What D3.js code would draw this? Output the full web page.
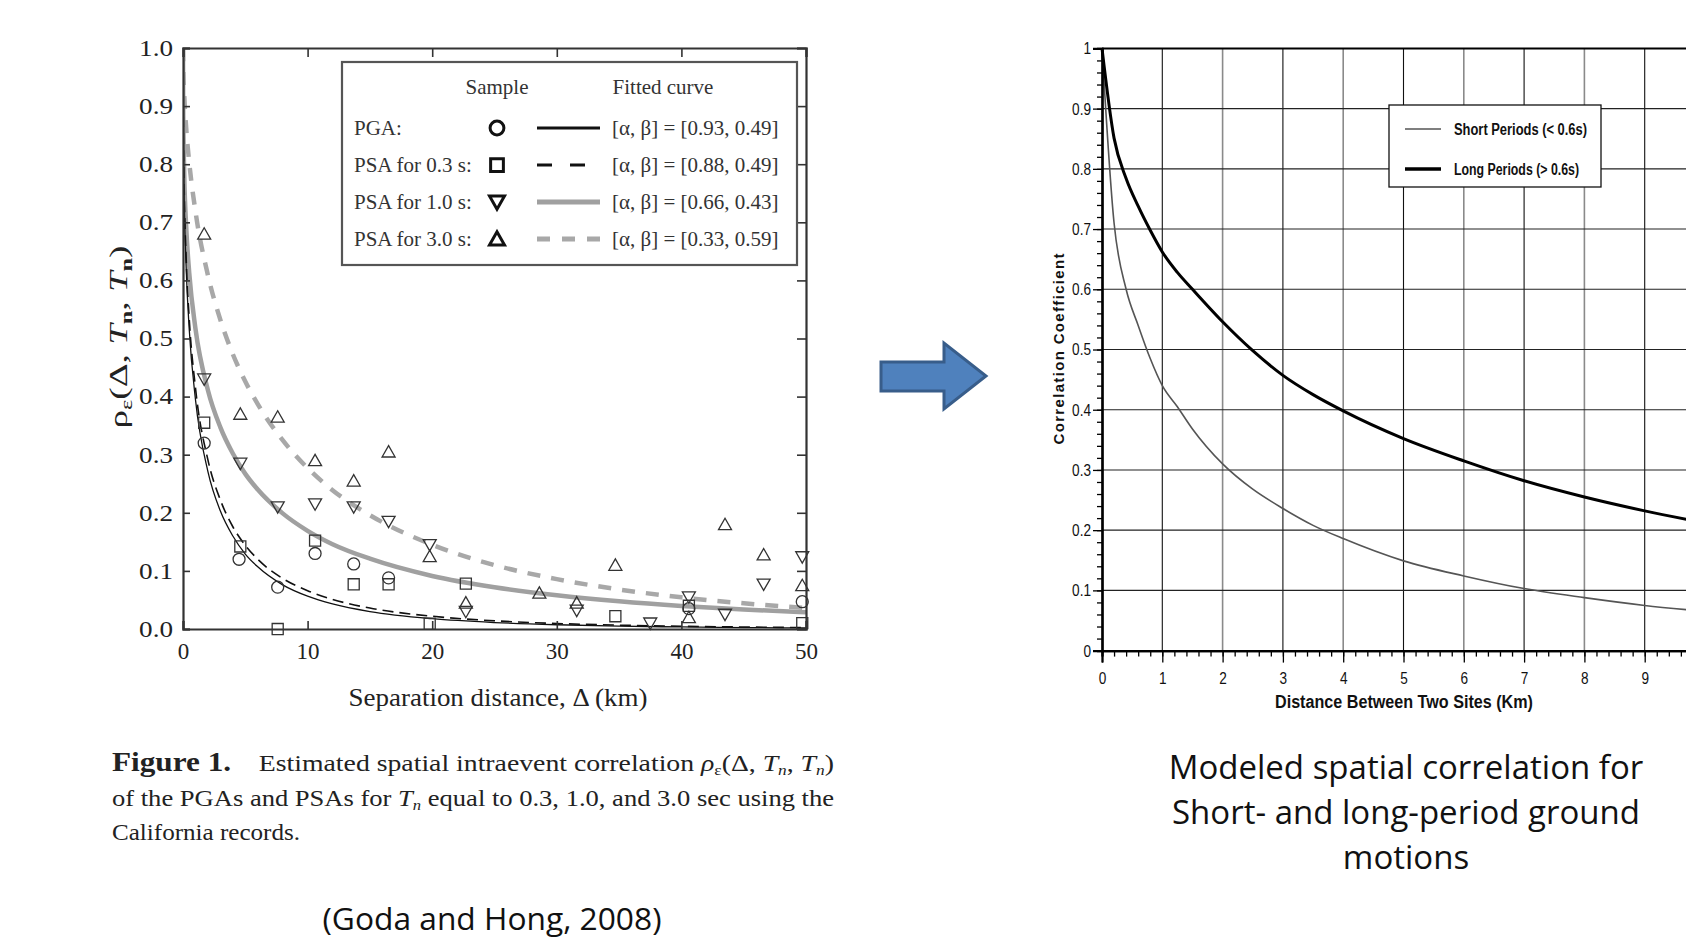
<!DOCTYPE html>
<html>
<head>
<meta charset="utf-8">
<script src="https://cdn.jsdelivr.net/npm/d3@7"></script>
<style>
  body { margin: 0; background: #fff; }
  svg { display: block; }
  .serif { font-family: "Liberation Serif", "Times New Roman", serif; }
</style>
</head>
<body>
<script>
var width = 1686,
    height = 939;

// ---- left figure (Goda and Hong, 2008) ----
var seriesNames = ["PGA:", "PSA for 0.3 s:", "PSA for 1.0 s:", "PSA for 3.0 s:"];
var fitLabels = ["[\u03b1, \u03b2] = [0.93, 0.49]", "[\u03b1, \u03b2] = [0.88, 0.49]", "[\u03b1, \u03b2] = [0.66, 0.43]", "[\u03b1, \u03b2] = [0.33, 0.59]"];
var leftXTicks = [0, 10, 20, 30, 40, 50];
var leftYTicks = [0, 0.1, 0.2, 0.3, 0.4, 0.5, 0.6, 0.7, 0.8, 0.9, 1.0];

var fitDist  = [0, 0.02, 0.1, 0.25, 0.5, 1, 2, 3, 4, 5, 6, 8, 10, 12, 15, 20, 25, 30, 35, 40, 45, 50];
var fitPGA   = [1, 0.872, 0.740, 0.624, 0.516, 0.395, 0.271, 0.203, 0.160, 0.129, 0.107, 0.076, 0.0565, 0.0432, 0.030, 0.0177, 0.0111, 0.0073, 0.0049, 0.0035, 0.0025, 0.0018];
var fitPSA03 = [1, 0.879, 0.752, 0.640, 0.534, 0.415, 0.291, 0.222, 0.176, 0.144, 0.120, 0.087, 0.066, 0.051, 0.036, 0.022, 0.0141, 0.0095, 0.0066, 0.0047, 0.0034, 0.0025];
var fitPSA10 = [1, 0.884, 0.782, 0.695, 0.613, 0.517, 0.411, 0.347, 0.302, 0.267, 0.240, 0.199, 0.169, 0.146, 0.121, 0.0913, 0.0718, 0.0579, 0.0476, 0.0397, 0.0336, 0.0287];
var fitPSA30 = [1, 0.968, 0.919, 0.864, 0.803, 0.719, 0.609, 0.532, 0.473, 0.426, 0.387, 0.325, 0.277, 0.239, 0.196, 0.145, 0.110, 0.0859, 0.068, 0.0545, 0.0442, 0.0362];

var samplePGA   = [[1.7,0.32],[4.5,0.12],[7.6,0.072],[10.6,0.13],[13.7,0.112],[16.5,0.088],[40.6,0.035],[49.7,0.047]];
var samplePSA03 = [[1.7,0.355],[4.6,0.142],[7.6,0.0],[10.6,0.152],[13.7,0.077],[16.5,0.077],[19.8,0.009],[22.7,0.078],[34.7,0.022],[40.6,0.04],[49.7,0.01]];
var samplePSA10 = [[1.7,0.43],[4.6,0.285],[7.6,0.21],[10.6,0.215],[13.7,0.21],[16.5,0.185],[19.8,0.145],[22.7,0.03],[31.6,0.032],[37.5,0.01],[40.6,0.055],[43.5,0.025],[46.6,0.077],[49.7,0.124]];
var samplePSA30 = [[1.7,0.68],[4.6,0.37],[7.6,0.365],[10.6,0.29],[13.7,0.255],[16.5,0.305],[19.8,0.125],[22.7,0.045],[28.6,0.062],[31.6,0.045],[34.7,0.11],[40.6,0.02],[43.5,0.18],[46.6,0.128],[49.7,0.075]];

// ---- right figure ----
var rightLegend = ["Short Periods (< 0.6s)", "Long Periods (> 0.6s)"];
var rightXTicks = [0, 1, 2, 3, 4, 5, 6, 7, 8, 9, 10];
var rightYTicks = [0, 0.1, 0.2, 0.3, 0.4, 0.5, 0.6, 0.7, 0.8, 0.9, 1];
var siteDist   = [0, 0.2, 0.4, 0.6, 0.8, 1, 1.25, 1.5, 2, 2.5, 3, 3.5, 4, 5, 6, 7, 8, 9, 10];
var shortCorr  = [1, 0.71, 0.60, 0.54, 0.485, 0.44, 0.405, 0.368, 0.31, 0.268, 0.236, 0.208, 0.186, 0.149, 0.124, 0.103, 0.088, 0.075, 0.065];
var longCorr   = [1, 0.851, 0.784, 0.738, 0.698, 0.662, 0.628, 0.600, 0.546, 0.498, 0.457, 0.425, 0.398, 0.352, 0.315, 0.282, 0.255, 0.232, 0.212];

function squeeze(sel, f) {
  sel.each(function() {
    var w = this.getComputedTextLength();
    if (w > 0) {
      this.setAttribute("textLength", w * f);
      this.setAttribute("lengthAdjust", "spacingAndGlyphs");
    }
  });
}
function fitTo(sel, w) {
  sel.attr("textLength", w).attr("lengthAdjust", "spacingAndGlyphs");
}

var svg = d3.select("body").append("svg")
    .attr("width", width)
    .attr("height", height);

svg.append("rect").attr("width", width).attr("height", height).attr("fill", "#fff");

// ================= LEFT CHART =================
var xL = d3.scaleLinear().domain([0, 50]).range([183, 806]);
var yL = d3.scaleLinear().domain([0, 1]).range([629, 48]);

var left = svg.append("g").attr("class", "serif");

var fitLine = d3.line()
    .x(function(d) { return xL(d[0]); })
    .y(function(d) { return yL(d[1]); })
    .curve(d3.curveMonotoneX);

var fits = [
  { vals: fitPSA30, color: "#a8a8a8", w: 4.5, dash: "13,11" },
  { vals: fitPSA10, color: "#a0a0a0", w: 4.5, dash: null },
  { vals: fitPSA03, color: "#111", w: 1.6, dash: "11,6" },
  { vals: fitPGA,   color: "#111", w: 1.3, dash: null }
];

left.append("clipPath").attr("id", "clipL")
  .append("rect").attr("x", xL(0)).attr("y", yL(1)).attr("width", xL(50) - xL(0)).attr("height", yL(0) - yL(1));

left.append("g").attr("clip-path", "url(#clipL)")
  .selectAll("path.fit")
  .data(fits)
  .enter().append("path")
    .attr("class", "fit")
    .attr("fill", "none")
    .attr("stroke", function(d) { return d.color; })
    .attr("stroke-width", function(d) { return d.w; })
    .attr("stroke-dasharray", function(d) { return d.dash; })
    .attr("d", function(d) { return fitLine(fitDist.map(function(x, i) { return [x, d.vals[i]]; })); });

function markerPath(kind, s) {
  var h = s / 2;
  if (kind === "circle") return d3.symbol().type(d3.symbolCircle).size(Math.PI * h * h * 0.85)();
  if (kind === "square") return "M" + (-h*0.85) + "," + (-h*0.85) + "h" + (1.7*h) + "v" + (1.7*h) + "h" + (-1.7*h) + "Z";
  if (kind === "down") return "M" + (-h) + "," + (-h*0.8) + "L" + h + "," + (-h*0.8) + "L0," + (h*0.95) + "Z";
  return "M" + (-h) + "," + (h*0.8) + "L" + h + "," + (h*0.8) + "L0," + (-h*0.95) + "Z";
}

var samples = [
  { pts: samplePGA, kind: "circle" },
  { pts: samplePSA03, kind: "square" },
  { pts: samplePSA10, kind: "down" },
  { pts: samplePSA30, kind: "up" }
];

samples.forEach(function(s) {
  left.append("g").selectAll("path")
    .data(s.pts)
    .enter().append("path")
      .attr("transform", function(d) { return "translate(" + xL(d[0]) + "," + yL(d[1]) + ")"; })
      .attr("d", markerPath(s.kind, 13))
      .attr("fill", "none")
      .attr("stroke", "#333")
      .attr("stroke-width", 1.3);
});

// axes
var axB = left.append("g").attr("transform", "translate(0," + yL(0) + ")")
  .call(d3.axisBottom(xL).tickValues(leftXTicks).tickSize(-8).tickPadding(14).tickFormat(d3.format("d")));
var axT = left.append("g").attr("transform", "translate(0," + yL(1) + ")")
  .call(d3.axisTop(xL).tickValues(leftXTicks).tickSize(-9).tickFormat(""));
var axLft = left.append("g").attr("transform", "translate(" + xL(0) + ",0)")
  .call(d3.axisLeft(yL).tickValues(leftYTicks).tickSize(-7).tickPadding(10).tickFormat(d3.format(".1f")));
var axR = left.append("g").attr("transform", "translate(" + xL(50) + ",0)")
  .call(d3.axisRight(yL).tickValues(leftYTicks).tickSize(-9).tickFormat(""));

[axB, axT, axLft, axR].forEach(function(a) {
  a.select(".domain").attr("stroke", "#333").attr("stroke-width", 2.2);
  a.selectAll(".tick line").attr("stroke", "#333").attr("stroke-width", 1.6);
  a.selectAll("text").attr("font-family", "Liberation Serif, serif").attr("font-size", 23).attr("fill", "#222");
});
squeeze(axLft.selectAll("text"), 1.18);

// axis titles
left.append("text")
  .attr("x", 498).attr("y", 706)
  .attr("text-anchor", "middle")
  .attr("font-size", 26).attr("fill", "#222")
  .call(fitTo, 299)
  .text("Separation distance, \u0394 (km)");

var yt = left.append("text")
  .attr("transform", "translate(127,337) rotate(-90)")
  .attr("text-anchor", "middle")
  .attr("font-size", 26).attr("fill", "#222")
  .call(fitTo, 183);
yt.append("tspan").text("\u03c1");
yt.append("tspan").attr("font-size", 17).attr("dy", 5).text("\u03b5");
yt.append("tspan").attr("dy", -5).text("(\u0394, ");
yt.append("tspan").attr("font-style", "italic").text("T");
yt.append("tspan").attr("font-size", 17).attr("font-weight", "bold").attr("dy", 5).text("n");
yt.append("tspan").attr("dy", -5).text(", ");
yt.append("tspan").attr("font-style", "italic").text("T");
yt.append("tspan").attr("font-size", 17).attr("font-weight", "bold").attr("dy", 5).text("n");
yt.append("tspan").attr("dy", -5).text(")");

// legend box
var lg = left.append("g");
lg.append("rect")
  .attr("x", 342).attr("y", 62).attr("width", 455).attr("height", 203)
  .attr("fill", "#fff").attr("stroke", "#555").attr("stroke-width", 2.2);
lg.append("text").attr("x", 497).attr("y", 94).attr("text-anchor", "middle").attr("font-size", 21).attr("fill", "#333").text("Sample");
lg.append("text").attr("x", 663).attr("y", 94).attr("text-anchor", "middle").attr("font-size", 21).attr("fill", "#333").text("Fitted curve");

var legKinds = ["circle", "square", "down", "up"];
var legFits = [fits[3], fits[2], fits[1], fits[0]];
var legRows = lg.selectAll("g.row")
  .data(seriesNames)
  .enter().append("g")
    .attr("class", "row")
    .attr("transform", function(d, i) { return "translate(0," + (128 + i * 37) + ")"; });

legRows.append("text")
  .attr("x", 354).attr("y", 7)
  .attr("font-size", 21).attr("fill", "#333")
  .text(function(d) { return d; });
legRows.append("path")
  .attr("transform", "translate(497,0)")
  .attr("d", function(d, i) { return markerPath(legKinds[i], 15); })
  .attr("fill", "none").attr("stroke", "#111").attr("stroke-width", 3);
legRows.append("line")
  .attr("x1", 537).attr("x2", 600).attr("y1", 0).attr("y2", 0)
  .attr("stroke", function(d, i) { return legFits[i].color; })
  .attr("stroke-width", function(d, i) { return i < 2 ? 3 : 5; })
  .attr("stroke-dasharray", function(d, i) { return i === 1 ? "15,18" : (i === 3 ? "13,12" : null); });
legRows.append("text")
  .attr("x", 612).attr("y", 7)
  .attr("font-size", 21).attr("fill", "#333")
  .text(function(d, i) { return fitLabels[i]; });

// caption
var cap = left.append("g").attr("fill", "#222");
var c1 = cap.append("text").attr("x", 112).attr("y", 771).attr("font-size", 24).call(fitTo, 722);
c1.append("tspan").attr("font-weight", "bold").attr("font-size", 27).text("Figure 1.");
c1.append("tspan").text("\u00a0\u00a0\u00a0 Estimated spatial intraevent correlation ");
c1.append("tspan").attr("font-style", "italic").text("\u03c1");
c1.append("tspan").attr("font-size", 15).attr("dy", 4).text("\u03b5");
c1.append("tspan").attr("dy", -4).text("(\u0394, ");
c1.append("tspan").attr("font-style", "italic").text("T");
c1.append("tspan").attr("font-style", "italic").attr("font-size", 15).attr("dy", 4).text("n");
c1.append("tspan").attr("dy", -4).text(", ");
c1.append("tspan").attr("font-style", "italic").text("T");
c1.append("tspan").attr("font-style", "italic").attr("font-size", 15).attr("dy", 4).text("n");
c1.append("tspan").attr("dy", -4).text(")");

var c2 = cap.append("text").attr("x", 112).attr("y", 806).attr("font-size", 24).call(fitTo, 722);
c2.append("tspan").text("of the PGAs and PSAs for ");
c2.append("tspan").attr("font-style", "italic").text("T");
c2.append("tspan").attr("font-style", "italic").attr("font-size", 15).attr("dy", 4).text("n");
c2.append("tspan").attr("dy", -4).text(" equal to 0.3, 1.0, and 3.0 sec using the");

cap.append("text").attr("x", 112).attr("y", 840).attr("font-size", 24).call(fitTo, 188).text("California records.");

svg.append("text")
  .attr("x", 492).attr("y", 930)
  .attr("text-anchor", "middle")
  .attr("font-family", "Open Sans, Noto Sans, sans-serif")
  .attr("font-size", 31).attr("fill", "#111")
  .call(fitTo, 339)
  .text("(Goda and Hong, 2008)");

// ================= ARROW =================
svg.append("path")
  .attr("d", "M881,362 L944,362 L944,343 L986,376 L944,409 L944,391 L881,391 Z")
  .attr("fill", "#4f81bd").attr("stroke", "#385d8a").attr("stroke-width", 3).attr("stroke-linejoin", "miter");

// ================= RIGHT CHART =================
var xR = d3.scaleLinear().domain([0, 10]).range([1102, 1705]);
var yR = d3.scaleLinear().domain([0, 1]).range([650.6, 48.4]);

var right = svg.append("g").attr("font-family", "Liberation Sans, Arial, sans-serif");

// grid
right.append("g").selectAll("line")
  .data(rightXTicks.slice(1))
  .enter().append("line")
    .attr("x1", function(d) { return xR(d); }).attr("x2", function(d) { return xR(d); })
    .attr("y1", yR(0)).attr("y2", yR(1))
    .attr("stroke", function(d) { return d % 2 === 0 ? "#8a8a8a" : "#111"; })
    .attr("stroke-width", function(d) { return d % 2 === 0 ? 1.6 : 1.1; });
right.append("g").selectAll("line")
  .data(rightYTicks.slice(1, 10))
  .enter().append("line")
    .attr("x1", xR(0)).attr("x2", xR(10))
    .attr("y1", function(d) { return yR(d); }).attr("y2", function(d) { return yR(d); })
    .attr("stroke", "#222").attr("stroke-width", 1.1);
right.append("line")
  .attr("x1", xR(0)).attr("x2", xR(10)).attr("y1", yR(1)).attr("y2", yR(1))
  .attr("stroke", "#000").attr("stroke-width", 2);

// curves
var corrLine = d3.line()
    .x(function(d) { return xR(d[0]); })
    .y(function(d) { return yR(d[1]); })
    .curve(d3.curveMonotoneX);

right.append("path")
  .attr("fill", "none").attr("stroke", "#555").attr("stroke-width", 1.6)
  .attr("d", corrLine(siteDist.map(function(x, i) { return [x, shortCorr[i]]; })));
right.append("path")
  .attr("fill", "none").attr("stroke", "#000").attr("stroke-width", 3)
  .attr("d", corrLine(siteDist.map(function(x, i) { return [x, longCorr[i]]; })));

// axes
var minorY = d3.range(0, 1.0001, 0.02);
var minorX = d3.range(0, 10.0001, 0.2);

var ryMinor = right.append("g").attr("transform", "translate(" + xR(0) + ",0)")
  .call(d3.axisLeft(yR).tickValues(minorY).tickSize(5).tickFormat(""));
var ry = right.append("g").attr("transform", "translate(" + xR(0) + ",0)")
  .call(d3.axisLeft(yR).tickValues(rightYTicks).tickSize(9).tickPadding(2).tickFormat(d3.format("~g")));
var rxMinor = right.append("g").attr("transform", "translate(0," + yR(0) + ")")
  .call(d3.axisBottom(xR).tickValues(minorX).tickSize(6).tickFormat(""));
// the 10 label falls past the right edge of the picture, as in the original
var rx = right.append("g").attr("transform", "translate(0," + yR(0) + ")")
  .call(d3.axisBottom(xR).tickValues(rightXTicks).tickSize(12).tickPadding(9)
    .tickFormat(function(d) { return d < 10 ? d3.format("d")(d) : ""; }));

[ryMinor, ry, rxMinor, rx].forEach(function(a) {
  a.select(".domain").attr("stroke", "#000").attr("stroke-width", 2.2);
  a.selectAll(".tick line").attr("stroke", "#000").attr("stroke-width", 1.3);
  a.selectAll("text").attr("font-family", "Liberation Sans, Arial, sans-serif").attr("font-size", 17).attr("fill", "#111");
});
squeeze(ry.selectAll("text"), 0.8);
squeeze(rx.selectAll("text"), 0.8);

right.append("text")
  .attr("x", 1404).attr("y", 708)
  .attr("text-anchor", "middle")
  .attr("font-weight", "bold")
  .attr("font-size", 18).attr("fill", "#111")
  .call(fitTo, 258)
  .text("Distance Between Two Sites (Km)");

right.append("text")
  .attr("transform", "translate(1064,349) rotate(-90)")
  .attr("text-anchor", "middle")
  .attr("font-weight", "bold")
  .attr("font-size", 15).attr("fill", "#111")
  .attr("textLength", 191).attr("lengthAdjust", "spacing")
  .text("Correlation Coefficient");

// legend
var rl = right.append("g");
rl.append("rect")
  .attr("x", 1389).attr("y", 105).attr("width", 212).attr("height", 82)
  .attr("fill", "#fff").attr("stroke", "#111").attr("stroke-width", 1.3);
var rlRows = rl.selectAll("g.row")
  .data(rightLegend)
  .enter().append("g")
    .attr("class", "row")
    .attr("transform", function(d, i) { return "translate(0," + (129 + i * 40) + ")"; });
rlRows.append("line")
  .attr("x1", 1405).attr("x2", 1441).attr("y1", 0).attr("y2", 0)
  .attr("stroke", function(d, i) { return i === 0 ? "#555" : "#000"; })
  .attr("stroke-width", function(d, i) { return i === 0 ? 1.6 : 3.5; });
rlRows.append("text")
  .attr("x", 1454).attr("y", 6)
  .attr("font-weight", "bold")
  .attr("font-size", 16).attr("fill", "#111")
  .attr("textLength", function(d, i) { return i === 0 ? 133 : 125; })
  .attr("lengthAdjust", "spacingAndGlyphs")
  .text(function(d) { return d; });

// right caption
var rc = svg.append("text")
  .attr("text-anchor", "middle")
  .attr("font-family", "Open Sans, Noto Sans, sans-serif")
  .attr("font-size", 33).attr("fill", "#111");
["Modeled spatial correlation for", "Short- and long-period ground", "motions"].forEach(function(t, i) {
  rc.append("tspan").attr("x", 1406).attr("y", 779 + i * 45).text(t);
});
</script>
</body>
</html>
